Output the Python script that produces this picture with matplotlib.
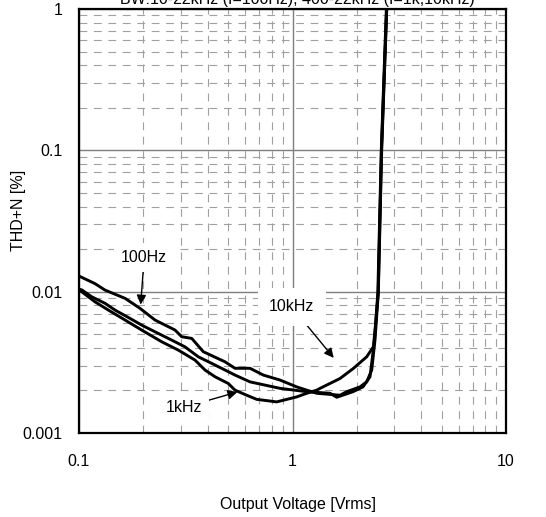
import matplotlib
matplotlib.use("Agg")
from matplotlib import pyplot as plt
from matplotlib.ticker import LogLocator, FixedLocator, FixedFormatter

plt.rcParams["font.family"] = ["Liberation Sans", "DejaVu Sans"]

# THD+N vs output voltage
v_100hz = [0.1, 0.1188, 0.1324, 0.1643, 0.1931, 0.227, 0.2817, 0.3027, 0.3373,
           0.3821, 0.4828, 0.5379, 0.6324, 0.7299, 0.8738, 1.046, 1.166, 1.299,
           1.669, 1.794, 2.071, 2.226, 2.35, 2.434, 2.523, 2.617, 2.762, 2.85]
thd_100hz = [0.0129, 0.0114, 0.01026, 0.00897, 0.00762, 0.0063, 0.00535, 0.0048,
             0.00467, 0.00376, 0.00319, 0.00287, 0.00287, 0.00257, 0.00237, 0.00212,
             0.00201, 0.00191, 0.00185, 0.00196, 0.00212, 0.0023, 0.00279, 0.00455,
             0.00977, 0.1005, 0.984, 1.3]

v_1khz = [0.1, 0.103, 0.1147, 0.1324, 0.1474, 0.1733, 0.1966, 0.227, 0.262, 0.3136,
          0.3621, 0.4183, 0.4828, 0.5379, 0.6324, 0.8738, 1.166, 1.5, 1.611, 1.92,
          2.139, 2.307, 2.42, 2.51, 2.605, 2.75, 2.84]
thd_1khz = [0.0104, 0.0103, 0.0092, 0.00827, 0.00741, 0.00647, 0.0058, 0.0052,
            0.00467, 0.00407, 0.00346, 0.00311, 0.00279, 0.00257, 0.0023, 0.00207,
            0.00196, 0.00191, 0.00179, 0.00196, 0.00212, 0.0025, 0.0045, 0.0098,
            0.1, 0.98, 1.3]

v_10khz = [0.1, 0.103, 0.1188, 0.1372, 0.1643, 0.1966, 0.244, 0.2918, 0.3494,
           0.3892, 0.4335, 0.5005, 0.5379, 0.6103, 0.6799, 0.8433, 1.046, 1.166,
           1.299, 1.346, 1.669, 1.926, 2.226, 2.391, 2.44, 2.52, 2.61, 2.76, 2.85]
thd_10khz = [0.0102, 0.00998, 0.00848, 0.00741, 0.0063, 0.00535, 0.00442, 0.00386,
             0.00328, 0.00279, 0.0025, 0.00224, 0.00201, 0.00185, 0.00173, 0.00166,
             0.0018, 0.00191, 0.00201, 0.00207, 0.00243, 0.00286, 0.00346, 0.00407,
             0.0055, 0.0098, 0.1, 0.98, 1.3]

x_ticks = [0.1, 1, 10]
x_labels = ["0.1", "1", "10"]
y_ticks = [0.001, 0.01, 0.1, 1]
y_labels = ["0.001", "0.01", "0.1", "1"]

fig = plt.figure(figsize=(5.46, 5.17), dpi=100)
ax = fig.add_axes([79 / 546, 1 - 433 / 517, 427 / 546, 424 / 517])

for v, thd in [(v_100hz, thd_100hz), (v_1khz, thd_1khz), (v_10khz, thd_10khz)]:
    ax.plot(v, thd, color="black", lw=2.1, zorder=4)

ax.set_xscale("log")
ax.set_yscale("log")
ax.set_xlim(0.1, 10)
ax.set_ylim(0.001, 1)

ax.xaxis.set_major_locator(FixedLocator(x_ticks))
ax.xaxis.set_major_formatter(FixedFormatter(x_labels))
ax.yaxis.set_major_locator(FixedLocator(y_ticks))
ax.yaxis.set_major_formatter(FixedFormatter(y_labels))
ax.xaxis.set_minor_locator(LogLocator(base=10, subs=range(2, 10)))
ax.yaxis.set_minor_locator(LogLocator(base=10, subs=range(2, 10)))
ax.xaxis.set_minor_formatter(plt.NullFormatter())
ax.yaxis.set_minor_formatter(plt.NullFormatter())

ax.grid(which="major", color="#7f7f7f", lw=1.0, ls="-", zorder=1)
ax.grid(which="minor", color="#a0a0a0", lw=0.8, ls=(0, (7, 6)), zorder=1)
ax.set_axisbelow(True)

ax.tick_params(which="both", length=0)
ax.tick_params(axis="x", pad=15, labelsize=11.5)
ax.tick_params(axis="y", pad=12, labelsize=11.5)
for s in ax.spines.values():
    s.set_linewidth(1.6)
    s.set_color("black")

box = dict(fc="white", ec="none", pad=5)
arrow = dict(arrowstyle="-|>", color="black", lw=1.0, mutation_scale=14,
             shrinkA=0, shrinkB=0)
ax.annotate("100Hz", xy=(0.1945, 0.0081), xytext=(0.202, 0.0174),
            ha="center", va="center", fontsize=11.5, bbox=box,
            arrowprops=arrow, zorder=5)
ax.annotate("1kHz", xy=(0.552, 0.00195), xytext=(0.31, 0.00152),
            ha="center", va="center", fontsize=11.5, bbox=box,
            arrowprops=arrow, zorder=5)
ax.annotate("10kHz", xy=(1.56, 0.0034), xytext=(0.992, 0.0078),
            ha="center", va="center", fontsize=11.5,
            bbox=dict(fc="white", ec="none", pad=8),
            arrowprops=arrow, zorder=5)

fig.text(297 / 546, 1 - 4 / 517, "BW:10-22kHz (f=100Hz), 400-22kHz (f=1k,10kHz)",
         ha="center", va="baseline", fontsize=11.5)
fig.text(19 / 546, 1 - 210 / 517, "THD+N [%]", rotation=90,
         ha="center", va="center", fontsize=11.5)
fig.text(298 / 546, 1 - 505 / 517, "Output Voltage [Vrms]",
         ha="center", va="center", fontsize=11.5)

fig.savefig("out.png", dpi=100)
